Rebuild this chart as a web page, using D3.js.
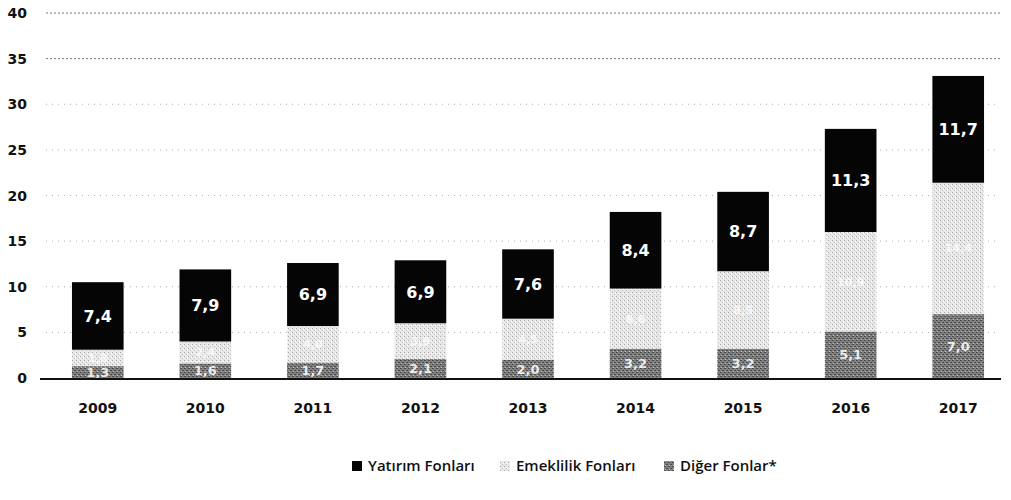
<!DOCTYPE html>
<html>
<head>
<meta charset="utf-8">
<script src="https://cdn.jsdelivr.net/npm/d3@7"></script>
<style>
  body { margin: 0; background: #fff; }
  svg text { font-family: "DejaVu Sans", sans-serif; font-weight: 700; }
  svg .legend text { font-family: "Open Sans", sans-serif; font-weight: 600; }
</style>
</head>
<body>
<div id="chart"></div>
<script>
var years = ["2009","2010","2011","2012","2013","2014","2015","2016","2017"];
var yatirim   = [7.4, 7.9, 6.9, 6.9, 7.6, 8.4, 8.7, 11.3, 11.7];
var emeklilik = [1.8, 2.4, 4.0, 3.9, 4.5, 6.6, 8.5, 10.9, 14.4];
var diger     = [1.3, 1.6, 1.7, 2.1, 2.0, 3.2, 3.2, 5.1, 7.0];
var yTicks = [0, 5, 10, 15, 20, 25, 30, 35, 40];
var seriesNames = ["Yatırım Fonları", "Emeklilik Fonları", "Diğer Fonlar*"];

var width = 1011, height = 500;
var fmt = function(v){ return d3.format(".1f")(v).replace(".", ","); };

var data = years.map(function(y, i){
  return {year: y, diger: diger[i], emeklilik: emeklilik[i], yatirim: yatirim[i]};
});

var svg = d3.select("#chart").append("svg")
  .attr("width", width).attr("height", height);

// stipple patterns like the scanned original
var defs = svg.append("defs");
var pl = defs.append("pattern").attr("id", "light")
  .attr("width", 4).attr("height", 4).attr("patternUnits", "userSpaceOnUse");
pl.append("rect").attr("width", 4).attr("height", 4).attr("fill", "#e8e8e8");
pl.append("rect").attr("x", 0).attr("y", 0).attr("width", 1).attr("height", 1).attr("fill", "#a8a8a8");
pl.append("rect").attr("x", 2).attr("y", 2).attr("width", 1).attr("height", 1).attr("fill", "#c0c0c0");
pl.append("rect").attr("x", 3).attr("y", 1).attr("width", 1).attr("height", 1).attr("fill", "#ffffff");

var pd = defs.append("pattern").attr("id", "dark")
  .attr("width", 4).attr("height", 4).attr("patternUnits", "userSpaceOnUse");
pd.append("rect").attr("width", 4).attr("height", 4).attr("fill", "#808080");
pd.append("rect").attr("x", 0).attr("y", 0).attr("width", 2).attr("height", 1).attr("fill", "#4e4e4e");
pd.append("rect").attr("x", 2).attr("y", 2).attr("width", 2).attr("height", 1).attr("fill", "#4e4e4e");
pd.append("rect").attr("x", 1).attr("y", 3).attr("width", 1).attr("height", 1).attr("fill", "#c0c0c0");

var x = d3.scaleBand().domain(years).range([44, 1012])
  .paddingInner(0.52).paddingOuter(0.26);
var y = d3.scaleLinear().domain([0, 40]).range([378, 13]);

// grid
svg.append("g").selectAll("line").data(yTicks.filter(function(t){ return t > 0; }))
  .enter().append("line")
  .attr("x1", 46).attr("x2", 1000)
  .attr("y1", function(d){ return y(d); }).attr("y2", function(d){ return y(d); })
  .attr("stroke", function(d){ return d >= 35 ? "#777" : "#aaa"; })
  .attr("stroke-width", 1)
  .attr("stroke-dasharray", function(d){ return d >= 35 ? "2,2" : "1,5"; });

// y labels
svg.append("g").selectAll("text").data(yTicks).enter().append("text")
  .attr("x", 27).attr("y", function(d){ return y(d); })
  .attr("dy", "0.36em").attr("text-anchor", "end")
  .attr("font-size", 14).attr("fill", "#111")
  .text(function(d){ return d; });

var keys = ["diger", "emeklilik", "yatirim"];
var fills = {diger: "url(#dark)", emeklilik: "url(#light)", yatirim: "#050505"};
var stack = d3.stack().keys(keys)(data);

var layers = svg.append("g").selectAll("g").data(stack).enter().append("g")
  .attr("fill", function(d){ return fills[d.key]; });

layers.selectAll("rect").data(function(d){ return d; }).enter().append("rect")
  .attr("x", function(d){ return x(d.data.year); })
  .attr("width", x.bandwidth())
  .attr("y", function(d){ return y(d[1]); })
  .attr("height", function(d){ return y(d[0]) - y(d[1]); });

// value labels
var labelSize = {yatirim: 16, emeklilik: 11, diger: 13};
stack.forEach(function(layer){
  svg.append("g").selectAll("text").data(layer).enter().append("text")
    .attr("x", function(d){ return x(d.data.year) + x.bandwidth() / 2; })
    .attr("y", function(d){ return (y(d[0]) + y(d[1])) / 2; })
    .attr("dy", "0.36em").attr("text-anchor", "middle")
    .attr("font-size", labelSize[layer.key])
    .attr("fill", layer.key === "emeklilik" ? "#f8f8f8" : "#fff")
    .attr("opacity", layer.key === "diger" ? 0.85 : 1)
    .text(function(d){ return fmt(d.data[layer.key]); });
});

// baseline
svg.append("line").attr("x1", 40).attr("x2", 1001)
  .attr("y1", y(0) + 1).attr("y2", y(0) + 1)
  .attr("stroke", "#111").attr("stroke-width", 2);

// year labels
svg.append("g").selectAll("text").data(years).enter().append("text")
  .attr("x", function(d){ return x(d) + x.bandwidth() / 2; })
  .attr("y", 408).attr("dy", "0.36em").attr("text-anchor", "middle")
  .attr("font-size", 14).attr("fill", "#111")
  .text(function(d){ return d; });

// legend
var legendX = [352, 500, 664];
var legendFill = ["#050505", "url(#light)", "url(#dark)"];
var lg = svg.append("g").attr("class", "legend").selectAll("g").data(seriesNames).enter().append("g")
  .attr("transform", function(d, i){ return "translate(" + legendX[i] + ",466)"; });
lg.append("rect").attr("x", 0).attr("y", -5).attr("width", 10).attr("height", 10)
  .attr("fill", function(d, i){ return legendFill[i]; });
lg.append("text").attr("x", 16).attr("dy", "0.36em")
  .attr("font-size", 15).attr("fill", "#111")
  .text(function(d){ return d; });
</script>
</body>
</html>
